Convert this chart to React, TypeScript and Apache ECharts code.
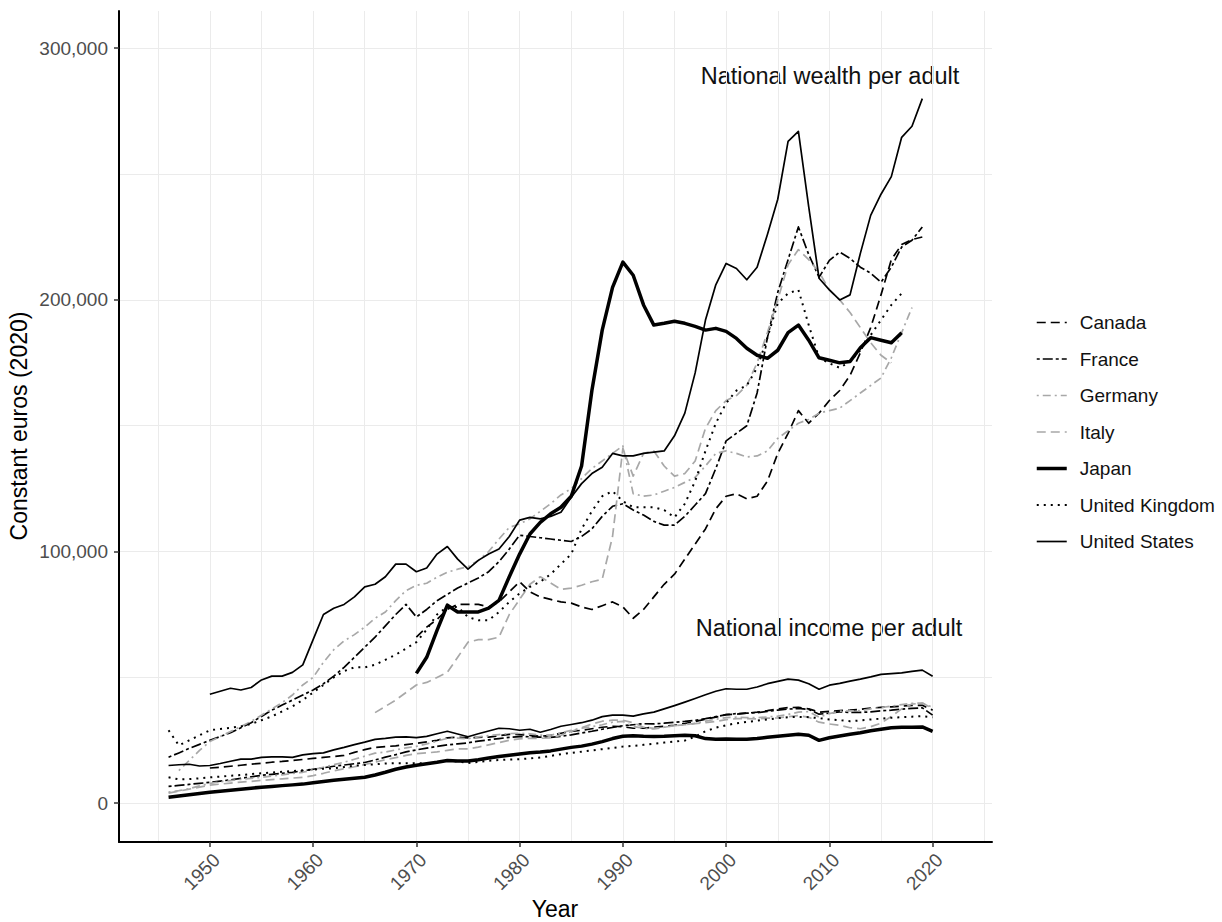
import React, { useEffect, useRef } from "react";
import * as echarts from "echarts";

const FONT = "'Liberation Sans', Arial, Helvetica, sans-serif";

const COUNTRIES = ["Canada", "France", "Germany", "Italy", "Japan", "United Kingdom", "United States"];
const X_TICKS = [1950, 1960, 1970, 1980, 1990, 2000, 2010, 2020];
const X_GRID = [1945, 1950, 1955, 1960, 1965, 1970, 1975, 1980, 1985, 1990, 1995, 2000, 2005, 2010, 2015, 2020, 2025];
const Y_TICKS = [0, 100000, 200000, 300000];
const Y_GRID = [0, 50000, 100000, 150000, 200000, 250000, 300000];
const X_MIN = 1941.2;
const X_MAX = 2025.75;
const Y_MIN = -15400;
const Y_MAX = 314800;

// National wealth per adult, thousands of constant 2020 euros, one value per year from the start year
const wealthCanadaStart = 1970;
const wealthCanada = [66, 70, 73, 77, 79, 79, 79, 78, 80, 84,
  88, 84, 82, 81, 80, 79.5, 78, 77, 78.5, 80,
  78, 73.5, 77, 82, 87, 91, 97, 103, 109, 117,
  122, 123, 121, 122, 128, 139, 147, 156, 151, 155,
  160, 164, 170, 179, 189, 202, 216, 222, 224, 225];
const wealthFranceStart = 1946;
const wealthFrance = [18.3, 20, 21.8, 23.4,
  25, 26.5, 28, 30, 32, 34.5, 37, 39, 41, 43,
  45, 47.5, 50.5, 54, 58, 62, 66, 70.5, 75, 79,
  74, 77, 80.5, 83, 85.5, 87.5, 89.5, 92, 96, 101,
  106.5, 106, 105.5, 105, 104.5, 104, 106, 109, 114, 118,
  119, 116.5, 114.5, 112, 110.5, 110.5, 114, 118.5, 123, 133,
  144, 147, 150, 163, 185, 203, 216, 229, 218, 209,
  215.7, 219, 216.5, 213, 210.6, 207, 213, 221, 223.7, 229];
const wealthGermanyStart = 1947;
const wealthGermany = [13, 17, 21,
  24.5, 26.5, 28.5, 30.5, 32.5, 35, 37.5, 40, 43, 47,
  50, 56, 61, 64.5, 67, 70, 73.5, 76, 80.5, 84.5,
  86.6, 87.4, 89.8, 91.8, 93, 94, 96.5, 100, 105, 109.6,
  111, 113, 116, 119, 122.5, 125, 129, 133, 136, 139,
  142, 123, 122, 122.5, 124, 125.5, 127.5, 129.5, 134, 139,
  140, 139, 137.6, 138, 140, 145, 148, 151, 152.5, 155,
  156, 157, 160, 163, 166, 169, 177, 187, 197];
const wealthItalyStart = 1966;
const wealthItaly = [36, 38.5, 41, 44,
  47, 48, 50, 52, 58, 64, 65, 65, 66, 75,
  81, 87, 90, 87.5, 85, 85.5, 86.6, 88, 89, 106,
  141, 130, 139, 140, 134, 130, 131, 136, 149, 156,
  160, 162, 166, 175, 187, 200, 214, 220, 216, 211,
  204, 200, 195, 189, 183, 178, 175];
const wealthJapanStart = 1970;
const wealthJapan = [51.6, 58, 68.7, 78.7, 76, 76, 76, 77.5, 80.6, 90,
  99, 107, 111.6, 115, 117.6, 122, 134, 164, 188, 205,
  215, 209.8, 198, 190, 190.7, 191.5, 190.7, 189.5, 188, 188.7,
  187.5, 184.7, 180.8, 178, 176.8, 180, 187, 190, 184, 177,
  176, 175, 175.5, 181, 185, 184, 183, 187];
const wealthUKStart = 1946;
const wealthUK = [29, 23, 25, 27,
  29, 29.5, 30, 30.5, 31.5, 33, 34.5, 36.5, 38.5, 41,
  44, 47, 50, 52.5, 54, 54, 55, 57, 59, 61.5,
  64, 69, 75, 78, 78, 74, 72.7, 72.7, 76, 80,
  83.4, 86, 88, 91, 95, 99, 109, 116, 122, 124,
  120, 117.6, 117.6, 117.6, 116.5, 113.6, 119, 128, 140, 151,
  159, 164, 166, 173, 185, 198.6, 202.6, 204, 190, 177,
  174.8, 173, 175.5, 180, 186, 192, 198, 202.6];
const wealthUSStart = 1950;
const wealthUS = [43.3, 44.5, 45.7, 45, 46, 49, 50.5, 50.5, 52, 55,
  65, 75, 77.5, 79, 82, 86, 87, 90, 95, 95,
  92, 93.5, 99, 102, 97, 93, 96.5, 99, 101, 106,
  112.5, 113.6, 113, 114, 115.6, 121.6, 127, 131, 133.5, 139,
  138, 138, 139, 139.5, 140, 146, 155, 171, 192, 206,
  214.5, 212.5, 208, 213, 226, 240, 263, 267, 237, 208.6,
  204, 200, 202, 218.5, 233.6, 242, 249, 264.6, 269, 280];

// National income per adult, thousands of constant 2020 euros
const incomeCanadaStart = 1950;
const incomeCanada = [14, 14.3, 14.7, 15.1, 15.5, 15.9, 16.3, 16.6, 17, 17.4,
  17.8, 18.2, 18.6, 19, 20.2, 21.3, 22.2, 22.5, 22.8, 23.3,
  23.8, 24.4, 25, 26, 26.2, 26, 26.2, 26.3, 26.8, 27.4,
  27.3, 27, 26.6, 27, 27.8, 28.5, 29, 29.6, 30.2, 30.6,
  30.4, 29.8, 29.8, 30.2, 30.6, 31, 31.7, 32.5, 33.4, 34.2,
  35.2, 35.4, 35.8, 36.2, 36.8, 37.5, 38, 38.1, 37.5, 36.2,
  36.5, 36.8, 37, 37.3, 37.8, 38.1, 38.3, 38.6, 38.9, 38.9,
  37];
const incomeFranceStart = 1946;
const incomeFrance = [6.7, 7.1, 7.5, 7.9,
  8.3, 8.8, 9.3, 9.9, 10.5, 11.1, 11.5, 11.9, 12.3, 12.9,
  13.5, 14.1, 14.7, 15.2, 15.7, 16.2, 17.2, 18.3, 19.3, 20.4,
  21.2, 21.9, 22.6, 23.2, 23.6, 24, 24.7, 25.2, 25.7, 26.2,
  26.5, 26.4, 26.3, 26.2, 26.6, 27.2, 27.9, 28.6, 29.4, 30.1,
  30.8, 31.2, 31.6, 31.5, 31.8, 32.2, 32.5, 32.9, 33.6, 34.4,
  35.2, 35.6, 35.8, 36, 36.5, 37, 37.4, 37.7, 37.3, 35.4,
  35.8, 36.3, 36.1, 36.1, 36.3, 36.7, 37, 37.4, 37.7, 37.9,
  35];
const incomeGermanyStart = 1946;
const incomeGermany = [4.4, 5, 5.8, 6.9,
  7.9, 8.5, 9, 9.5, 9.9, 10.3, 10.8, 11.3, 11.8, 12.3,
  13.3, 14.3, 15.3, 16.3, 17.5, 18.7, 19.9, 20.3, 21.2, 22,
  22.6, 23.6, 24.7, 25.8, 25.9, 25.6, 26.4, 26.9, 27.3, 27.7,
  27.8, 27.6, 27.1, 27, 28, 29, 29.8, 30.4, 31.2, 32.2,
  32.5, 30.5, 29.8, 29.5, 30.2, 30.8, 31.2, 31.8, 32.6, 33.4,
  34, 34.2, 34, 34, 34.3, 34.6, 35.3, 36.2, 36.4, 34.2,
  35.6, 36.6, 36.7, 36.8, 37.5, 38, 38.6, 39.2, 39.7, 39.8,
  38.1];
const incomeItalyStart = 1946;
const incomeItaly = [4, 4.8, 5.6, 6.4,
  7.2, 7.6, 8, 8.4, 8.7, 9.1, 9.4, 9.7, 10, 10.3,
  11, 11.9, 12.9, 13.7, 14.5, 15.4, 16.3, 17.3, 18.1, 19,
  19.7, 20, 20.4, 21, 21.6, 21.6, 22.3, 23.2, 24.1, 25,
  25.6, 25.8, 25.8, 26, 27, 28.5, 30, 31.5, 32.6, 33,
  33, 32, 30.2, 29.8, 30.2, 30.8, 31.2, 31.6, 32, 32.5,
  33.2, 33.6, 33.6, 33.5, 33.8, 33.9, 34.4, 34.8, 34.2, 32.2,
  31.5, 31, 30, 29.6, 30.4, 31.8, 34.5, 37.5, 39.4, 39.8,
  37.7];
const incomeJapanStart = 1946;
const incomeJapan = [2.4, 2.9, 3.4, 3.9,
  4.4, 4.8, 5.2, 5.6, 6, 6.4, 6.7, 7, 7.3, 7.6,
  8.1, 8.6, 9.1, 9.5, 9.9, 10.3, 11.2, 12.3, 13.5, 14.4,
  15.1, 15.7, 16.3, 17, 16.8, 16.8, 17.3, 18, 18.6, 19.1,
  19.6, 20.1, 20.4, 20.8, 21.5, 22.2, 22.7, 23.5, 24.5, 25.7,
  26.6, 26.8, 26.6, 26.5, 26.6, 26.8, 27, 26.8, 25.7, 25.4,
  25.5, 25.4, 25.4, 25.7, 26.2, 26.6, 27, 27.4, 27, 25,
  26, 26.7, 27.4, 28, 28.8, 29.4, 30, 30.2, 30.2, 30.3,
  28.6];
const incomeUKStart = 1946;
const incomeUK = [10.3, 9.5, 9.6, 9.9,
  10.3, 10.6, 10.9, 11.2, 11.6, 11.9, 12.2, 12.5, 12.8, 13.1,
  13.4, 13.7, 13.9, 14.4, 14.9, 15.2, 15.5, 15.8, 15.9, 15.9,
  15.9, 15.9, 16.4, 16.9, 16.6, 16, 16.4, 16.9, 17.2, 17.4,
  17.5, 17.8, 18.2, 18.8, 19.5, 20, 20.5, 21, 21.5, 22,
  22.5, 22.8, 23.2, 23.6, 24.1, 24.5, 24.9, 26.5, 28.6, 30,
  31, 31.8, 32.3, 32.8, 33.3, 33.8, 34.2, 34.3, 34.2, 33.8,
  33.3, 33, 32.6, 32.9, 33.3, 33.6, 34, 34.2, 34.4, 34.6,
  34.2];
const incomeUSStart = 1946;
const incomeUS = [15, 15.3, 15.5, 14.8,
  15, 15.8, 16.7, 17.5, 17.5, 18.2, 18.4, 18.4, 18.2, 19.2,
  19.7, 20, 21.2, 22.2, 23.3, 24.3, 25.4, 25.8, 26.3, 26.4,
  26.1, 26.6, 27.6, 28.6, 27.5, 26.4, 27.6, 28.7, 29.8, 29.6,
  29, 29.4, 28.2, 29.3, 30.6, 31.3, 32, 33, 34.4, 35,
  35, 34.6, 35.5, 36.2, 37.5, 38.8, 40.2, 41.6, 43.1, 44.5,
  45.5, 45.3, 45.3, 46.2, 47.5, 48.4, 49.3, 48.9, 47.5, 45.3,
  46.9, 47.6, 48.5, 49.3, 50.2, 51.2, 51.5, 51.8, 52.4, 52.9,
  50.5];

const SERIES_DATA: Record<string, { wealth: [number, number[]]; income: [number, number[]] }> = {
  Canada: { wealth: [wealthCanadaStart, wealthCanada], income: [incomeCanadaStart, incomeCanada] },
  France: { wealth: [wealthFranceStart, wealthFrance], income: [incomeFranceStart, incomeFrance] },
  Germany: { wealth: [wealthGermanyStart, wealthGermany], income: [incomeGermanyStart, incomeGermany] },
  Italy: { wealth: [wealthItalyStart, wealthItaly], income: [incomeItalyStart, incomeItaly] },
  Japan: { wealth: [wealthJapanStart, wealthJapan], income: [incomeJapanStart, incomeJapan] },
  "United Kingdom": { wealth: [wealthUKStart, wealthUK], income: [incomeUKStart, incomeUK] },
  "United States": { wealth: [wealthUSStart, wealthUS], income: [incomeUSStart, incomeUS] },
};

const STYLES: Record<string, { color: string; width: number; type: any }> = {
  Canada: { color: "#000000", width: 1.7, type: [9, 5] },
  France: { color: "#000000", width: 1.7, type: [3, 3, 10, 3] },
  Germany: { color: "#a8a8a8", width: 1.7, type: [2, 4, 8, 4] },
  Italy: { color: "#a8a8a8", width: 1.7, type: [9, 5] },
  Japan: { color: "#000000", width: 3.5, type: "solid" },
  "United Kingdom": { color: "#000000", width: 2, type: [2, 5] },
  "United States": { color: "#000000", width: 1.7, type: "solid" },
};

function toPairs(start: number, vals: number[]) {
  return vals.map((v, i) => [start + i, v * 1000]);
}

export default function App() {
  const ref = useRef<HTMLDivElement>(null);

  useEffect(() => {
    document.body.style.margin = "0";
    if (!ref.current) return;
    const chart = echarts.init(ref.current, undefined, { renderer: "svg" });

    const series: any[] = [];
    COUNTRIES.forEach((c) => {
      const st = STYLES[c];
      (["wealth", "income"] as const).forEach((kind) => {
        const [start, vals] = SERIES_DATA[c][kind];
        series.push({
          type: "line",
          name: c,
          data: toPairs(start, vals),
          showSymbol: false,
          symbol: "none",
          silent: true,
          lineStyle: { color: st.color, width: st.width, type: st.type, cap: "butt", join: "round" },
          itemStyle: { color: st.color },
          emphasis: { disabled: true },
          z: 3,
        });
      });
    });

    const option: any = {
      animation: false,
      backgroundColor: "#ffffff",
      textStyle: { fontFamily: FONT },
      grid: { left: 119, right: 230, top: 11, bottom: 80, containLabel: false },
      xAxis: [
        {
          type: "value",
          min: X_MIN,
          max: X_MAX,
          axisLine: { show: true, onZero: false, lineStyle: { color: "#000000", width: 2 } },
          axisTick: { show: true, length: 5, customValues: X_TICKS, lineStyle: { color: "#333333", width: 1.5 } },
          axisLabel: {
            customValues: X_TICKS,
            rotate: 45,
            margin: 8,
            verticalAlign: "top",
            fontSize: 19,
            color: "#4d4d4d",
            fontFamily: FONT,
            formatter: (v: number) => String(v),
          },
          splitLine: { show: false },
        },
        {
          type: "value",
          min: X_MIN,
          max: X_MAX,
          position: "top",
          axisLine: { show: false, onZero: false },
          axisTick: { show: false, customValues: X_GRID },
          axisLabel: { show: false },
          splitLine: { show: true, lineStyle: { color: "#ebebeb", width: 1 } },
        },
      ],
      yAxis: [
        {
          type: "value",
          min: Y_MIN,
          max: Y_MAX,
          axisLine: { show: true, onZero: false, lineStyle: { color: "#000000", width: 2 } },
          axisTick: { show: true, length: 5, customValues: Y_TICKS, lineStyle: { color: "#333333", width: 1.5 } },
          axisLabel: {
            customValues: Y_TICKS,
            margin: 11,
            fontSize: 19,
            color: "#4d4d4d",
            fontFamily: FONT,
            formatter: (v: number) => Math.round(v).toLocaleString("en-US"),
          },
          splitLine: { show: false },
        },
        {
          type: "value",
          min: Y_MIN,
          max: Y_MAX,
          position: "right",
          axisLine: { show: false, onZero: false },
          axisTick: { show: false, customValues: Y_GRID },
          axisLabel: { show: false },
          splitLine: { show: true, lineStyle: { color: "#ebebeb", width: 1 } },
        },
      ],
      legend: {
        data: COUNTRIES,
        orient: "vertical",
        left: 1030,
        top: 308,
        itemWidth: 30,
        itemHeight: 20,
        itemGap: 17.5,
        selectedMode: false,
        itemStyle: { opacity: 0, borderWidth: 0 },
        lineStyle: { width: "inherit", type: "inherit", color: "inherit" },
        textStyle: {
          fontSize: 19,
          color: "#111111",
          fontFamily: FONT,
          fontWeight: "normal",
          textBorderWidth: 0,
          textBorderColor: "transparent",
          padding: [0, 0, 0, 8],
        },
      },
      graphic: [
        {
          type: "text",
          x: 830,
          y: 76,
          style: {
            text: "National wealth per adult",
            fontSize: 23.5,
            fontFamily: FONT,
            fill: "#111111",
            textAlign: "center",
            textVerticalAlign: "middle",
            align: "center",
            verticalAlign: "middle",
          },
        },
        {
          type: "text",
          x: 829,
          y: 628,
          style: {
            text: "National income per adult",
            fontSize: 23.5,
            fontFamily: FONT,
            fill: "#111111",
            textAlign: "center",
            textVerticalAlign: "middle",
            align: "center",
            verticalAlign: "middle",
          },
        },
        {
          type: "text",
          x: 555,
          y: 909,
          style: {
            text: "Year",
            fontSize: 23,
            fontFamily: FONT,
            fill: "#000000",
            textAlign: "center",
            textVerticalAlign: "middle",
            align: "center",
            verticalAlign: "middle",
          },
        },
        {
          type: "text",
          x: 19,
          y: 426,
          rotation: Math.PI / 2,
          style: {
            text: "Constant euros (2020)",
            fontSize: 23,
            fontFamily: FONT,
            fill: "#000000",
            textAlign: "center",
            textVerticalAlign: "middle",
            align: "center",
            verticalAlign: "middle",
          },
        },
      ],
      series,
    };

    chart.setOption(option);
    return () => {
      chart.dispose();
    };
  }, []);

  return <div ref={ref} style={{ width: 1222, height: 922 }} />;
}
